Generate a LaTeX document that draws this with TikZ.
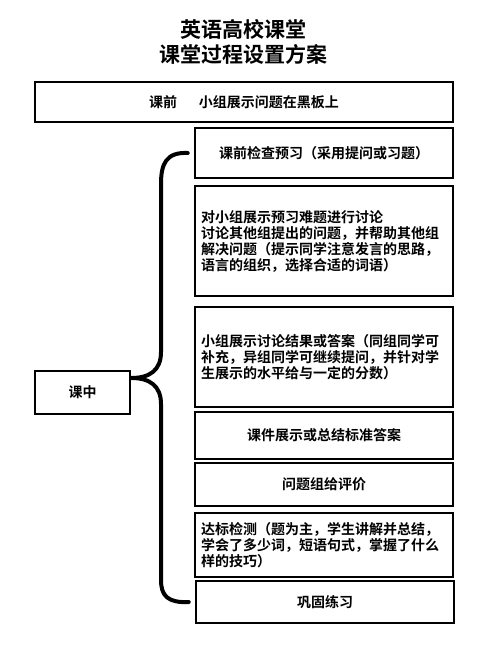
\documentclass[tikz,border=0pt]{standalone}
\usepackage{fontspec}
\setmainfont{Noto Sans CJK SC}[BoldFont={Noto Sans CJK SC Bold}]
\usepackage{tikz}
\tikzstyle{stepbox} = [draw=black, fill=white, line width=2.5pt, rectangle, inner sep=0pt, minimum width=258pt, font=\bfseries\fontsize{14}{16}\selectfont]
\tikzstyle{textbox} = [stepbox, text width=246pt, align=left]
\tikzstyle{maintitle} = [align=center, font=\bfseries\fontsize{21}{25}\selectfont]
\tikzstyle{bracket} = [line width=4pt, line cap=round, line join=round]

\begin{document}
\begin{tikzpicture}[x=1pt, y=-1pt]
\useasboundingbox (0,0) rectangle (500,666);
\node[maintitle] (title) at (243,42) {英语高校课堂\\课堂过程设置方案};
\node[stepbox, minimum width=418pt, minimum height=40pt] (pre) at (244,102) {课前\hspace{22pt}小组展示问题在黑板上};
\node[stepbox, minimum width=95pt, minimum height=43pt] (mid) at (82.5,392.5) {课中};
% steps of the lesson
\node[stepbox, minimum height=50pt] (check) at (324,153) {课前检查预习（采用提问或习题）};
\node[textbox, minimum height=110pt] (discuss) at (324,241) {对小组展示预习难题进行讨论\\讨论其他组提出的问题，并帮助其他组\\解决问题（提示同学注意发言的思路，\\语言的组织，选择合适的词语）};
\node[textbox, minimum height=100pt] (show) at (324,357) {小组展示讨论结果或答案（同组同学可\\补充，异组同学可继续提问，并针对学\\生展示的水平给与一定的分数）};
\node[stepbox, minimum height=47pt] (answer) at (324,435.5) {课件展示或总结标准答案};
\node[stepbox, minimum height=43pt] (review) at (324,484.5) {问题组给评价};
\node[textbox, minimum height=64pt] (test) at (324,545) {达标检测（题为主，学生讲解并总结，\\学会了多少词，短语句式，掌握了什么\\样的技巧）};
\node[stepbox, minimum height=42pt] (practice) at (325,602) {巩固练习};
% brace
\coordinate (tip) at (mid.east |- 0,378);
\draw[bracket] ([xshift=-6pt]check.west) .. controls (166,152) and (161,164) .. (161,184)
  -- (161,352) .. controls (161,370) and (150,378) .. (tip)
  .. controls (150,378) and (161,386) .. (161,404)
  -- (161,580) .. controls (161,596) and (168,603) .. ([xshift=-6pt]practice.west);
\end{tikzpicture}
\end{document}
